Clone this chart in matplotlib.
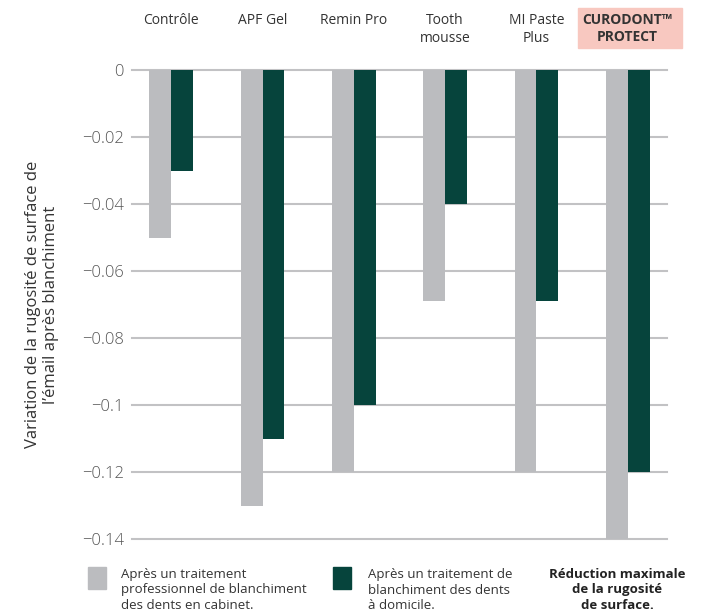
import matplotlib.pyplot as plt
import matplotlib.transforms as mtransforms
import numpy as np
from matplotlib.patches import Rectangle

plt.rcParams['font.family'] = ['Open Sans', 'DejaVu Sans']

categories = ['Contrôle', 'APF Gel', 'Remin Pro', 'Tooth\nmousse', 'MI Paste\nPlus', 'CURODONT™\nPROTECT']
cabinet = [-0.05, -0.13, -0.12, -0.069, -0.12, -0.14]
domicile = [-0.03, -0.11, -0.10, -0.04, -0.069, -0.12]
yticks = [0, -0.02, -0.04, -0.06, -0.08, -0.1, -0.12, -0.14]
ytick_labels = ['0', '\u22120.02', '\u22120.04', '\u22120.06', '\u22120.08', '\u22120.1', '\u22120.12', '\u22120.14']

GRAY = '#bbbcbf'
GREEN = '#06443c'
TXT = '#333333'

fig = plt.figure(figsize=(7.05, 6.14), dpi=100)
ax = fig.add_axes([0.1872, 0.1221, 0.7589, 0.7639])

x = np.arange(len(categories))
w = 0.24
ax.bar(x - w / 2, cabinet, w, color=GRAY, zorder=2)
ax.bar(x + w / 2, domicile, w, color=GREEN, zorder=3)

ax.set_xlim(-0.43, 5.43)
ax.set_ylim(-0.14, 0)
ax.set_yticks(yticks)
ax.set_yticklabels(ytick_labels, fontsize=12, color='#555555', fontweight='light')
ax.tick_params(axis='y', length=0, pad=6)
ax.set_xticks([])
for s in ax.spines.values():
    s.set_visible(False)
for yv in yticks:
    ax.axhline(yv, color='#c2c2c4', lw=1.5, zorder=1, clip_on=False)

# highlight box behind the last category label
ax.add_patch(Rectangle((578 / 705, 1 - 48 / 614), 104 / 705, 40 / 614,
                       transform=fig.transFigure, color='#f8c8c0', zorder=0, clip_on=False))

# category labels above plot
top = mtransforms.blended_transform_factory(ax.transData, fig.transFigure)
for i, lab in enumerate(categories):
    last = i == len(categories) - 1
    ax.text(i, 1 - 13 / 614, lab, transform=top,
            ha='center', va='top', fontsize=10, color=TXT,
            fontweight='bold' if last else 'normal', linespacing=1.25, zorder=5)

ax.set_ylabel("Variation de la rugosité de surface de\nl\u2019émail après blanchiment",
              fontsize=12, color=TXT, linespacing=1.2)
ax.yaxis.set_label_coords(-0.136, 0.5)

# legend
fig.patches.append(Rectangle((88 / 705, 1 - 589 / 614), 18 / 705, 22 / 614,
                             transform=fig.transFigure, color=GRAY))
fig.patches.append(Rectangle((333 / 705, 1 - 589 / 614), 18 / 705, 22 / 614,
                             transform=fig.transFigure, color=GREEN))
fig.text(121 / 705, 1 - 568 / 614, 'Après un traitement\nprofessionnel de blanchiment\ndes dents en cabinet.',
         fontsize=9.5, color=TXT, va='top', ha='left', linespacing=1.25)
fig.text(368 / 705, 1 - 568 / 614, 'Après un traitement de\nblanchiment des dents\nà domicile.',
         fontsize=9.5, color=TXT, va='top', ha='left', linespacing=1.25)
fig.text(617 / 705, 1 - 568 / 614, 'Réduction maximale\nde la rugosité\nde surface.',
         fontsize=9.5, color='#222222', va='top', ha='center', fontweight='bold', linespacing=1.25)

fig.savefig('out.png', dpi=100)
